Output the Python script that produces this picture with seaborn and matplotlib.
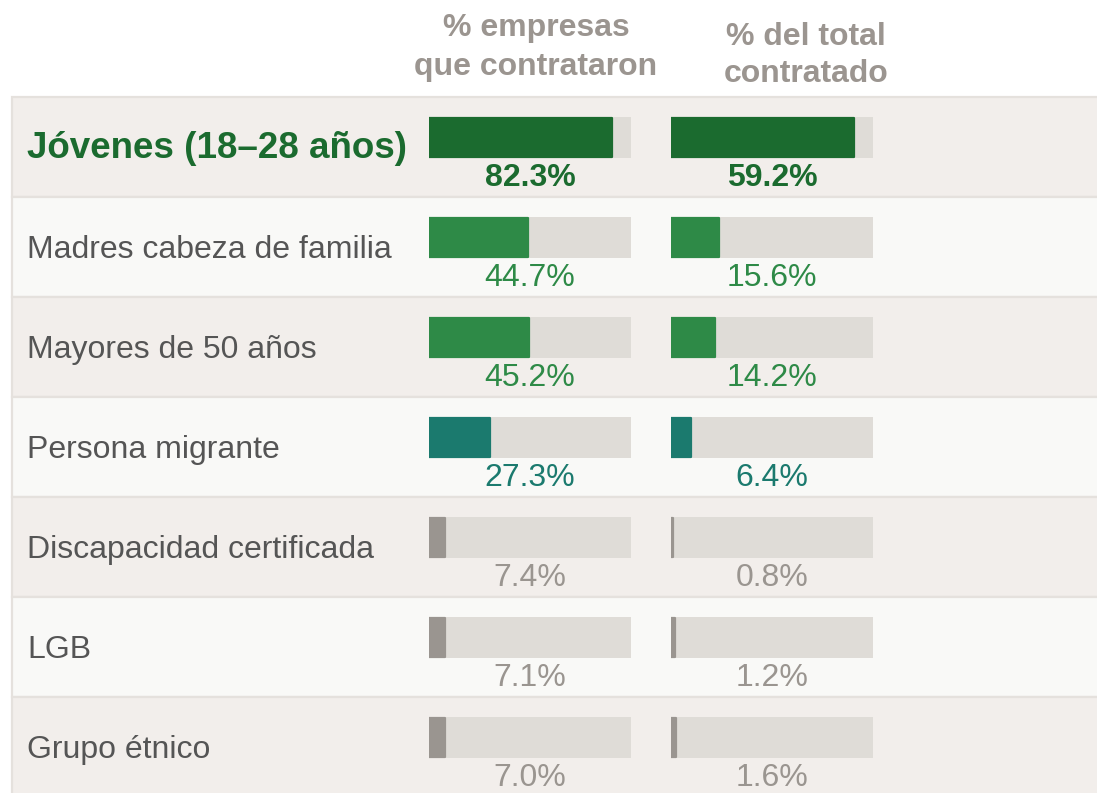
import matplotlib
matplotlib.use("Agg")
import matplotlib.pyplot as plt
from matplotlib.patches import Rectangle
import seaborn as sns
import pandas as pd

# ---- data ----
categories = ["Jóvenes (18–28 años)", "Madres cabeza de familia", "Mayores de 50 años",
              "Persona migrante", "Discapacidad certificada", "LGB", "Grupo étnico"]
pct_empresas = [82.3, 44.7, 45.2, 27.3, 7.4, 7.1, 7.0]
pct_total = [59.2, 15.6, 14.2, 6.4, 0.8, 1.2, 1.6]
header_1 = "% empresas\nque contrataron"
header_2 = "% del total\ncontratado"

# ---- styles ----
DARK = "#1b6b2f"
GREEN = "#2e8a47"
TEAL = "#1b7a6e"
GRAY = "#9a9590"
TRACK = "#dfdcd7"
bar_colors = [DARK, GREEN, GREEN, TEAL, GRAY, GRAY, GRAY]
row_bg = ["#f2eeeb", "#f9f9f7"]
LABEL = "#555555"
HEAD = "#9b9590"
FS = 23

sns.set_theme(style="white")
plt.rcParams["font.family"] = ["Liberation Sans", "DejaVu Sans"]

W, H = 1097, 793
fig = plt.figure(figsize=(W / 100, H / 100), dpi=100)
fig.patch.set_facecolor("white")

# background axes in pixel coordinates
bg = fig.add_axes([0, 0, 1, 1])
bg.set_xlim(0, W)
bg.set_ylim(H, 0)
bg.axis("off")

for i, cat in enumerate(categories):
    top = 97 + 100 * i
    bg.add_patch(Rectangle((12, top), W, 100, facecolor=row_bg[i % 2],
                           edgecolor="#e5e1dd", lw=1.6, zorder=0))
    if i == 0:
        bg.text(27, top + 61, cat, fontsize=26.5, fontweight="bold",
                color=DARK, ha="left", va="baseline")
    else:
        bg.text(27, top + 61, cat, fontsize=FS, color=LABEL, ha="left", va="baseline")

# headers
for txt, xc, (b1, b2) in [(header_1, 536, (36, 75)), (header_2, 806, (45, 82))]:
    l1, l2 = txt.split("\n")
    bg.text(xc, b1, l1, fontsize=FS, fontweight="bold", color=HEAD, ha="center", va="baseline")
    bg.text(xc, b2, l2, fontsize=FS, fontweight="bold", color=HEAD, ha="center", va="baseline")

df = pd.DataFrame({"cat": categories, "emp": pct_empresas, "tot": pct_total})

def bar_col(x0, values, col):
    dmax = max(values) * 1.105
    ax = fig.add_axes([x0 / W, (H - 787.5) / H, 202 / W, 700 / H])
    ax.patch.set_alpha(0)
    track = pd.DataFrame({"cat": categories, "v": [dmax] * len(categories)})
    sns.barplot(data=track, x="v", y="cat", color=TRACK, width=0.41,
                orient="h", ax=ax, saturation=1, edgecolor="none")
    sns.barplot(data=df, x=col, y="cat", hue="cat", palette=bar_colors, width=0.39,
                orient="h", ax=ax, saturation=1, legend=False, dodge=False,
                linewidth=1.6)
    # stroke in the bar's own colour, rounded corners
    for p in ax.patches[len(categories):]:
        p.set_edgecolor(p.get_facecolor())
        p.set_joinstyle("round")
    ax.set_xlim(0, dmax)
    ax.set_ylim(len(categories) - 0.5, -0.5)
    ax.axis("off")
    for i, v in enumerate(values):
        ax.text(dmax / 2, i + 0.49, f"{v:.1f}%", fontsize=FS,
                fontweight="bold" if i == 0 else "normal",
                color=bar_colors[i], ha="center", va="baseline", clip_on=False)
    return ax

bar_col(429, pct_empresas, "emp")
bar_col(671, pct_total, "tot")

fig.savefig("out.png", dpi=100, facecolor="white")
